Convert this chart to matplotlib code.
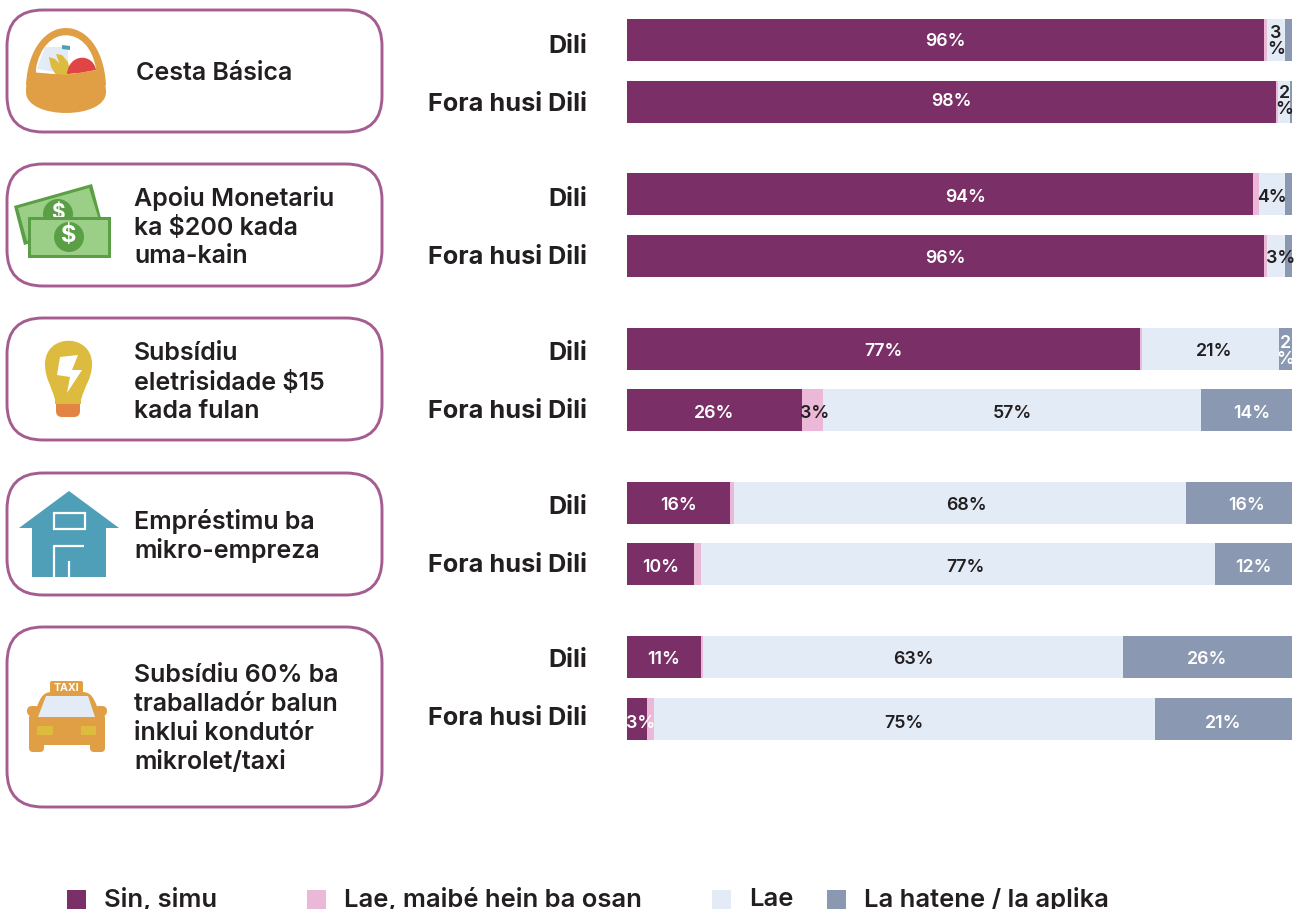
import matplotlib
matplotlib.use("Agg")
import matplotlib.pyplot as plt
from matplotlib.patches import FancyBboxPatch, Polygon, Circle, Rectangle, PathPatch
from matplotlib.path import Path

W, H = 1301, 909

# ---- data ----
programs = ["Cesta Básica", "Apoiu Monetariu\nka $200 kada\numa-kain",
            "Subsídiu\neletrisidade $15\nkada fulan", "Empréstimu ba\nmikro-empreza",
            "Subsídiu 60% ba\ntraballadór balun\ninklui kondutór\nmikrolet/taxi"]
regions = ["Dili", "Fora husi Dili"] * 5
legend_labels = ["Sin, simu", "Lae, maibé hein ba osan", "Lae", "La hatene / la aplika"]

sin_simu = [95.8, 97.6, 94.1, 95.8, 77.1, 26.3, 15.5, 10.1, 11.1, 3.0]
lae_maibe = [0.45, 0.3, 0.9, 0.45, 0.3, 3.2, 0.6, 1.05, 0.3, 1.05]
lae = [2.7, 1.8, 3.9, 2.7, 20.6, 56.8, 68.0, 77.3, 63.2, 75.3]
la_hatene = [1.05, 0.3, 1.05, 1.05, 2.0, 13.7, 15.9, 11.6, 25.4, 20.6]

sin_text = ["96%", "98%", "94%", "96%", "77%", "26%", "16%", "10%", "11%", "3%"]
maibe_text = ["", "", "", "", "", "3%", "", "", "", ""]
lae_text = ["3\n%", "2\n%", "4%", "3%", "21%", "57%", "68%", "77%", "63%", "75%"]
hatene_text = ["", "", "", "", "2\n%", "14%", "16%", "12%", "26%", "21%"]

# ---- layout (pixels) ----
colors = ["#7A3066", "#EBB9D7", "#E3EBF6", "#8A99B1"]
ink = "#231F20"
card_c = "#A45C91"
BAR_L, BAR_R = 627, 1292
bar_tops = [19, 81, 173, 235, 328, 389, 482, 543, 636, 698]
BAR_H = 42
label_off = [0, -2, 2, 1, 1, 2, 1, 2, 1, 3]
# horizontal nudges of value labels: (series, row) -> pixels
label_dx = {(0, 2): 26, (2, 3): 5, (2, 4): 4, (1, 5): 2.5, (3, 5): 5.5, (2, 6): 6, (3, 6): 7,
            (2, 7): 7, (0, 9): 4, (2, 1): 0.5}
region_y = [45, 103, 198, 256, 352, 410, 506, 564, 659, 717]
cards = [(10, 132), (164, 286), (318, 440), (473, 595), (627, 807)]
card_text_x = [136, 134, 134, 134, 134]
card_text_y = [72, 197, 352, 520, 674]
LINE = 29.1
FONT = ["Inter", "Open Sans", "DejaVu Sans"]
FS_CARD = 18.0
FS_REGION = 18.2
FS_VAL = 12.8
FS_LEG = 18.4
TEXT_DY = 1.5

fig = plt.figure(figsize=(W / 100, H / 100), dpi=100, facecolor="white")

ov = fig.add_axes([0, 0, 1, 1], zorder=1)
ov.set_xlim(0, W)
ov.set_ylim(H, 0)
ov.axis("off")

ax = fig.add_axes([BAR_L / W, 0, (BAR_R - BAR_L) / W, 1], zorder=2)
ax.patch.set_alpha(0)
ax.set_xlim(0, 100)
ax.set_ylim(H, 0)
ax.axis("off")
px = 100 / (BAR_R - BAR_L)

series = [sin_simu, lae_maibe, lae, la_hatene]
texts = [sin_text, maibe_text, lae_text, hatene_text]
lefts = [0.0] * len(regions)
for s, (vals, c, labs) in enumerate(zip(series, colors, texts)):
    ax.barh(bar_tops, vals, height=BAR_H, left=lefts, align="edge", color=c, linewidth=0)
    for i, (v, lab) in enumerate(zip(vals, labs)):
        if not lab:
            continue
        cx = lefts[i] + v / 2 + label_dx.get((s, i), 0) * px
        tc = "white" if s in (0, 3) else ink
        ax.text(cx, bar_tops[i] + BAR_H / 2 + label_off[i] + TEXT_DY, lab, ha="center", va="center",
                color=tc, fontsize=FS_VAL, fontweight=600, family=FONT, linespacing=0.85,
                zorder=5)
    lefts = [l + v for l, v in zip(lefts, vals)]

for y, r in zip(region_y, regions):
    ov.text(587, y + TEXT_DY, r, ha="right", va="center", fontsize=FS_REGION, fontweight="bold",
            color=ink, family=FONT)

for (top, bot), txt, tx, ty in zip(cards, programs, card_text_x, card_text_y):
    ov.add_patch(FancyBboxPatch((7 + 36, top + 36), 375 - 72, bot - top - 72,
                                boxstyle="round,pad=36,rounding_size=36",
                                fc="white", ec=card_c, lw=2.1))
    for k, line in enumerate(txt.split("\n")):
        ov.text(tx, ty + k * LINE + TEXT_DY, line, ha="left", va="center", fontsize=FS_CARD,
                fontweight=600, color=ink, family=FONT)


def poly(pts, c, z=3):
    ov.add_patch(Polygon(pts, closed=True, fc=c, ec="none", zorder=z))


def rrect(x0, y0, x1, y1, r, c, z=3):
    ov.add_patch(FancyBboxPatch((x0 + r, y0 + r), x1 - x0 - 2 * r, y1 - y0 - 2 * r,
                                boxstyle=f"round,pad={r},rounding_size={r}",
                                fc=c, ec="none", zorder=z))


def curve(verts, codes, c, z=3):
    ov.add_patch(PathPatch(Path(verts, codes), fc=c, ec="none", zorder=z))


M, L4, LT = Path.MOVETO, Path.CURVE4, Path.LINETO
orange = "#E09F45"

# basket
curve([(26, 85), (30, 9), (102, 9), (106, 85), (106, 85), (66, 85), (26, 85)],
      [M, L4, L4, L4, LT, LT, LT], orange)
curve([(36, 69), (43, 24), (89, 24), (96, 69), (96, 78), (36, 78), (36, 69)],
      [M, L4, L4, L4, LT, LT, LT], "white", 4)
poly([(45, 47), (68, 47), (68, 74), (37, 69)], "#E3EBF6", 5)
poly([(62, 45), (70, 46), (70, 50), (62, 49)], "#4F9FB8", 6)
poly([(49, 57), (55, 59), (61, 65), (67, 75), (56, 75), (51, 67)], "#DDBB3F", 6)
poly([(56, 54), (62, 55), (68, 62), (71, 75), (60, 75), (60, 65)], "#DDBB3F", 6)
curve([(67, 74), (69, 53), (93, 53), (96, 70), (96, 70), (80, 73), (67, 74)],
      [M, L4, L4, L4, LT, LT, LT], "#E04444", 6)
curve([(30, 72), (26, 82), (26, 88), (26, 92), (26, 120), (106, 120), (106, 92), (106, 86),
       (104, 78), (102, 69), (102, 69), (66, 75), (30, 72)],
      [M, L4, L4, L4, L4, L4, L4, L4, L4, L4, LT, LT, LT], orange, 7)

# money
dg, lg = "#5A9E45", "#9BCF87"
poly([(14, 206), (92, 184), (102, 222), (24, 245)], dg)
poly([(18, 208), (89, 188), (99, 220), (27, 241)], lg)
ov.add_patch(Circle((58, 214), 15, fc=dg, ec="none", zorder=3))
ov.text(58, 213, "$", color="white", fontsize=15, fontweight="bold", ha="center", va="center",
        family=FONT, zorder=3)
ov.add_patch(Rectangle((28, 217), 83, 41, fc=dg, ec="none", zorder=4))
ov.add_patch(Rectangle((31, 220), 77, 35, fc=lg, ec="none", zorder=4))
ov.add_patch(Circle((69, 237), 15, fc=dg, ec="none", zorder=4))
ov.text(69, 236, "$", color="white", fontsize=17, fontweight="bold", ha="center", va="center",
        family=FONT, zorder=5)

# bulb
curve([(56, 404), (52, 385), (45, 380), (45, 364), (45, 333), (92, 333), (92, 364),
       (92, 380), (84, 385), (80, 404), (80, 404), (56, 404), (56, 404)],
      [M, L4, L4, L4, L4, L4, L4, L4, L4, L4, LT, LT, LT], "#DDBB3F")
rrect(56, 396, 80, 417, 6, "#E38444")
poly([(55, 404), (81, 404), (81, 396), (55, 396)], "#DDBB3F", 4)
poly([(60, 357), (78, 355), (72, 370), (82, 370), (67, 393), (70, 377), (57, 375)], "white", 5)

# house
teal = "#4F9FB8"
poly([(19, 528), (69, 491), (119, 528)], teal)
ov.add_patch(Rectangle((32, 528), 74, 49, fc=teal, ec="none", zorder=3))
ov.add_patch(Rectangle((53.5, 513), 31, 16, fc="none", ec="white", lw=1.6, zorder=4))
ov.plot([53.5, 53.5, 84], [577, 546, 546], color="white", lw=1.6, zorder=4, solid_capstyle="butt")
ov.plot([68.5, 68.5], [561, 577], color="white", lw=1.6, zorder=4, solid_capstyle="butt")

# taxi
rrect(50, 681, 83, 700, 2, orange)
ov.text(66.5, 688, "TAXI", color="white", fontsize=7.6, fontweight="bold", ha="center",
        va="center", family=FONT, zorder=6)
curve([(33, 717), (40, 698), (42, 692), (52, 692), (52, 692), (82, 692), (82, 692),
       (92, 692), (94, 698), (101, 717), (101, 717), (33, 717), (33, 717)],
      [M, L4, L4, L4, LT, LT, LT, L4, L4, L4, LT, LT, LT], orange)
rrect(29, 712, 105, 745, 6, orange)
rrect(29, 735, 44, 752, 4, orange)
rrect(90, 735, 105, 752, 4, orange)
rrect(27, 706, 40, 716, 5, orange)
rrect(94, 706, 107, 716, 5, orange)
poly([(38, 717), (46, 696), (88, 696), (95, 717)], "#E3EBF6", 4)
rrect(37, 726, 53, 735, 1, "#DDBB3F", 4)
rrect(81, 726, 96, 735, 1, "#DDBB3F", 4)

# legend
leg_x = [67, 307, 712, 827]
leg_tx = [104, 344, 749, 864]
for x, tx, c, t in zip(leg_x, leg_tx, colors, legend_labels):
    ov.add_patch(Rectangle((x, 890), 19, 19, fc=c, ec="none"))
    ov.text(tx, 899, t, ha="left", va="center", fontsize=FS_LEG, fontweight=600, color=ink,
            family=FONT)

fig.savefig("out.png", dpi=100, facecolor="white")
